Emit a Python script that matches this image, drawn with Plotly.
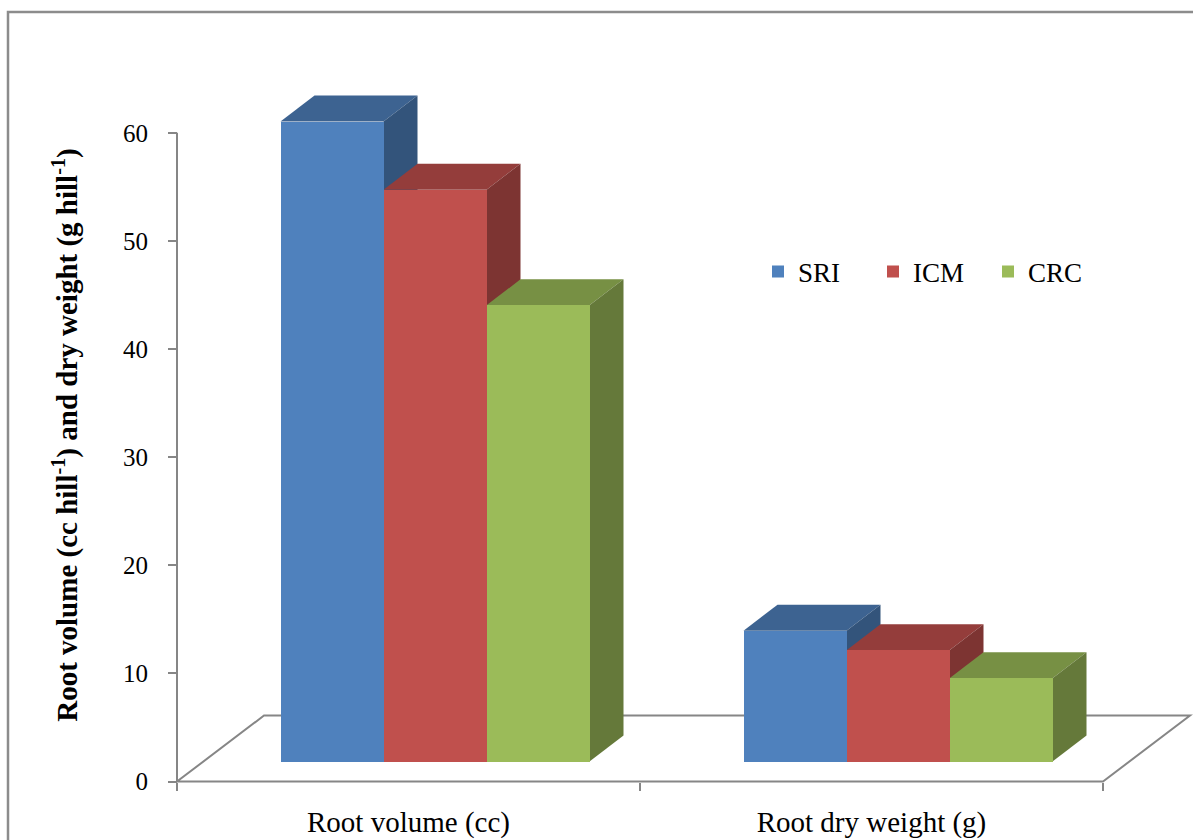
import plotly.graph_objects as go

# ---- data -------------------------------------------------------------
categories = ["Root volume (cc)", "Root dry weight (g)"]
series_names = ["SRI", "ICM", "CRC"]
sri = [59.2, 12.1]
icm = [52.9, 10.3]
crc = [42.2, 7.7]
y_ticks = [0, 10, 20, 30, 40, 50, 60]

front_colors = ["#4F81BD", "#C0504D", "#9BBB59"]
top_colors = ["#3D6391", "#943D3B", "#779044"]
side_colors = ["#33547B", "#7D3432", "#65793A"]

# ---- geometry of the pseudo-3D view (axis units) ----------------------
W, H = 1193, 840
PX_X = 463.0            # pixels per category
PX_Y = 649.0 / 60.0     # pixels per value unit
L, T = 167, 68          # plot-area left / top in px
Y_MIN, Y_MAX = -0.6, 66.0
X_MIN = -0.5 - 10 / PX_X
X_MAX = X_MIN + (W - L) / PX_X
plot_h = (Y_MAX - Y_MIN) * PX_Y
B = H - T - plot_h

FLOOR_DX, FLOOR_DY = 87 / PX_X, 66 / PX_Y   # floor depth
BAR_DX, BAR_DY = 34 / PX_X, 26 / PX_Y       # bar depth
BAR_W = 103 / PX_X
BASE0 = FLOOR_DY / 2 - BAR_DY / 2

AXIS_GREY = "#868686"
FONT = "Liberation Serif"

fig = go.Figure()
shapes = []

# floor outline
shapes.append(dict(
    type="path", xref="x", yref="y", layer="below",
    path=(f"M {-0.5},{0} L {1.5},{0} L {1.5 + FLOOR_DX},{FLOOR_DY} "
          f"L {-0.5 + FLOOR_DX},{FLOOR_DY} Z"),
    line=dict(color=AXIS_GREY, width=2), fillcolor="rgba(0,0,0,0)"))

values = [sri, icm, crc]
for ci in range(len(categories)):
    for si, vals in enumerate(values):
        x0 = ci + FLOOR_DX / 2 - BAR_DX / 2 - 1.5 * BAR_W + si * BAR_W
        x1 = x0 + BAR_W
        top = BASE0 + vals[ci]
        # top face
        shapes.append(dict(
            type="path", xref="x", yref="y", layer="below",
            path=(f"M {x0},{top} L {x1},{top} L {x1 + BAR_DX},{top + BAR_DY} "
                  f"L {x0 + BAR_DX},{top + BAR_DY} Z"),
            line=dict(width=0), fillcolor=top_colors[si]))
        # right side face
        shapes.append(dict(
            type="path", xref="x", yref="y", layer="below",
            path=(f"M {x1},{BASE0} L {x1 + BAR_DX},{BASE0 + BAR_DY} "
                  f"L {x1 + BAR_DX},{top + BAR_DY} L {x1},{top} Z"),
            line=dict(width=0), fillcolor=side_colors[si]))

# front faces of the columns
for si, (name, vals) in enumerate(zip(series_names, values)):
    xs = [ci + FLOOR_DX / 2 - BAR_DX / 2 - 1.5 * BAR_W + (si + 0.5) * BAR_W
          for ci in range(len(categories))]
    fig.add_trace(go.Bar(
        x=xs, y=vals, base=BASE0, width=BAR_W, name=name,
        marker=dict(color=front_colors[si], line=dict(width=0)),
        hoverinfo="skip"))

# value axis line
shapes.append(dict(
    type="line", xref="x", yref="y", x0=-0.5, x1=-0.5, y0=0, y1=60,
    line=dict(color=AXIS_GREY, width=2), layer="above"))

# outer frame
fx0 = (8 - L) / (W - L)
fy_top = (plot_h - (12 - T)) / plot_h
fy_bot = (plot_h - (H + 10 - T)) / plot_h
fx_right = (W + 10 - L) / (W - L)
shapes.append(dict(
    type="path", xref="paper", yref="paper",
    path=f"M {fx0},{fy_bot} L {fx0},{fy_top} L {fx_right},{fy_top}",
    line=dict(color="#8C8C8C", width=2.5)))

fig.update_layout(
    width=W, height=H,
    margin=dict(l=L, r=0, t=T, b=B, pad=0),
    paper_bgcolor="white", plot_bgcolor="white",
    barmode="overlay",
    bargap=0,
    shapes=shapes,
    showlegend=True,
    legend=dict(
        orientation="h", x=(758 - L) / (W - L), y=(plot_h - (272 - T)) / plot_h,
        xanchor="left", yanchor="middle",
        font=dict(family=FONT, size=27, color="black"),
        entrywidth=70, entrywidthmode="pixels",
        bgcolor="rgba(0,0,0,0)", borderwidth=0, traceorder="normal"),
    xaxis=dict(
        range=[X_MIN, X_MAX], anchor="free", position=(0 - Y_MIN) / (Y_MAX - Y_MIN),
        showgrid=False, zeroline=False, showline=False,
        tickmode="array", tickvals=[0, 1], ticktext=categories,
        ticks="", ticklabelstandoff=20,
        tickfont=dict(family=FONT, size=29, color="black"),
        minor=dict(tickmode="array", tickvals=[-0.5, 0.5, 1.5], ticks="outside",
                   ticklen=8, tickwidth=2, tickcolor=AXIS_GREY),
        fixedrange=True),
    yaxis=dict(
        range=[Y_MIN, Y_MAX], anchor="free", position=(-0.5 - X_MIN) / (X_MAX - X_MIN),
        showgrid=False, zeroline=False, showline=False,
        tickmode="array", tickvals=y_ticks,
        ticks="outside", ticklen=9, tickwidth=2, tickcolor=AXIS_GREY,
        ticklabelstandoff=15,
        tickfont=dict(family=FONT, size=25, color="black"),
        fixedrange=True),
    annotations=[dict(
        text="Root volume (cc hill<sup>-1</sup>) and dry weight (g hill<sup>-1</sup>)",
        xref="paper", yref="paper",
        x=(66 - L) / (W - L), y=(plot_h - (435 - T)) / plot_h,
        xanchor="center", yanchor="middle", textangle=-90, showarrow=False,
        font=dict(family=FONT, size=29, color="black", weight="bold"))],
)

fig.write_html("out.html")
